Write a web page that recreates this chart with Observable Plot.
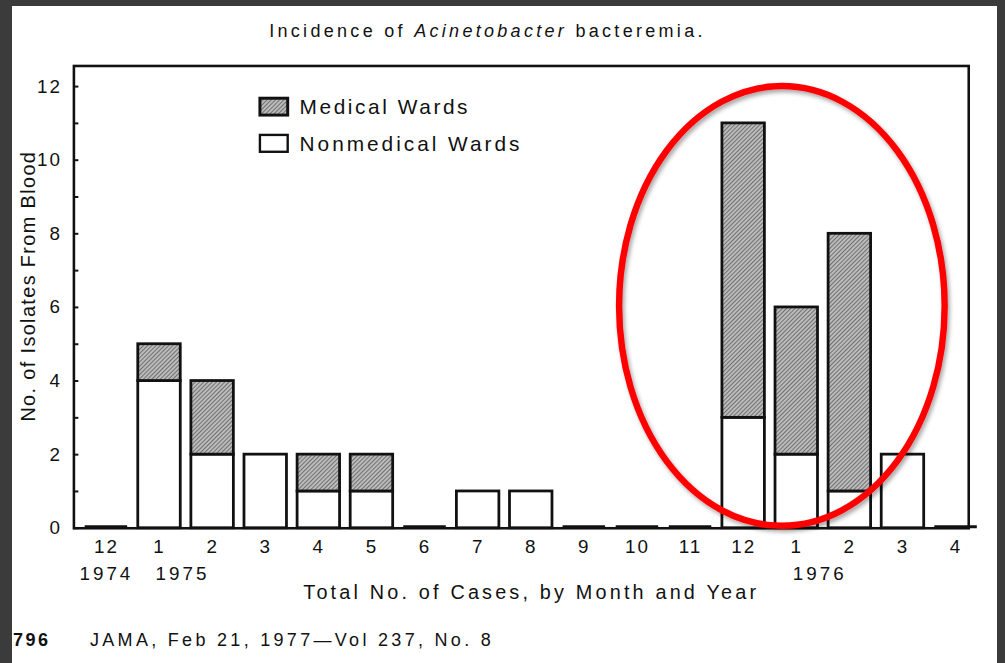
<!DOCTYPE html>
<html>
<head>
<meta charset="utf-8">
<script src="https://cdn.jsdelivr.net/npm/d3@7"></script>
<script src="https://cdn.jsdelivr.net/npm/@observablehq/plot@0.6"></script>
<style>
  html, body { margin: 0; padding: 0; }
  body { width: 1005px; height: 663px; background: #3b3b3b; position: relative; overflow: hidden;
         font-family: "Liberation Sans", Arial, Helvetica, sans-serif; }
  #panel { position: absolute; left: 12px; top: 6px; width: 985px; height: 657px; background: #fff; overflow: hidden; }
  #chart { position: absolute; left: -12px; top: -6px; }
  .title { position: absolute; left: 0; width: 951px; top: 15px; text-align: center; font-size: 18px; letter-spacing: 3.3px; color: #111; }
  .footer { position: absolute; top: 624px; font-size: 18px; color: #111; letter-spacing: 3.3px; white-space: nowrap; }
</style>
</head>
<body>
<div id="panel">
  <div id="chart"></div>
  <div class="title">Incidence of <i>Acinetobacter</i> bacteremia.</div>
  <div class="footer" style="left:1px;font-weight:bold;letter-spacing:2.5px;">796</div>
  <div class="footer" style="left:78px;">JAMA, Feb 21, 1977—Vol 237, No. 8</div>
</div>
<script>
// ---- data ----
const monthKeys   = ["1974-12","1975-01","1975-02","1975-03","1975-04","1975-05","1975-06","1975-07","1975-08","1975-09","1975-10","1975-11","1975-12","1976-01","1976-02","1976-03","1976-04"];
const monthLabels = ["12","1","2","3","4","5","6","7","8","9","10","11","12","1","2","3","4"];
const nonmedical  = [0, 4, 2, 2, 1, 1, 0, 1, 1, 0, 0, 0, 3, 2, 1, 2, 0];
const medical     = [0, 1, 2, 0, 1, 1, 0, 0, 0, 0, 0, 0, 8, 4, 7, 0, 0];
const yTicks      = [0, 2, 4, 6, 8, 10, 12];
const yMinorTicks = [0,1,2,3,4,5,6,7,8,9,10,11,12];
const yearCentered = [{key: "1974-12", year: "1974"}];
const yearStart    = [{key: "1975-01", year: "1975"}, {key: "1976-01", year: "1976"}];
const seriesNames = ["Medical Wards", "Nonmedical Wards"];
const yLabel = "No. of Isolates From Blood";
const xLabel = "Total No. of Cases, by Month and Year";

const rows = monthKeys.map((key, i) => ({key, non: nonmedical[i], med: medical[i]}));
const zeroRows = rows.filter(d => d.non + d.med === 0);
const labelOf = k => monthLabels[monthKeys.indexOf(k)];

const plot = Plot.plot({
  width: 1005,
  height: 663,
  marginLeft: 74,
  marginRight: 29,
  marginTop: 66,
  marginBottom: 131,
  style: {background: "transparent", fontFamily: "'Liberation Sans', Arial, Helvetica, sans-serif", fontSize: "19px", color: "#111", overflow: "visible"},
  x: {domain: monthKeys, range: [80, 990], paddingInner: 0.2, paddingOuter: 0.1, round: false, axis: null},
  y: {domain: [0, 12.56], axis: null},
  marks: [
    Plot.barY(rows, {x: "key", y1: 0, y2: "non", fill: "white", stroke: "#111", strokeWidth: 2.8}),
    Plot.barY(rows.filter(d => d.med > 0), {x: "key", y1: "non", y2: d => d.non + d.med, fill: "url(#hatch)", stroke: "#111", strokeWidth: 2.8}),
    Plot.tickY(zeroRows, {x: "key", y: 0, stroke: "#111", strokeWidth: 3.2, dy: -1.5}),
    Plot.frame({stroke: "#111", strokeWidth: 2.6}),
    Plot.tickY(yMinorTicks, {y: d => d, stroke: "#111", strokeWidth: 2, insetRight: 897}),
    Plot.axisY({ticks: yTicks, tickSize: 0, tickPadding: 12, fontSize: 19, label: null}),
    Plot.axisX({tickSize: 0, tickPadding: 11, tickFormat: labelOf, fontSize: 19, label: null}),
    Plot.text(yearCentered, {x: "key", text: "year", frameAnchor: "bottom", lineAnchor: "top", dy: 39, fontSize: 19, className: "yr"}),
    Plot.text(yearStart, {x: "key", text: "year", frameAnchor: "bottom", lineAnchor: "top", textAnchor: "start", dx: -4, dy: 39, fontSize: 19, className: "yr"}),
    Plot.text([xLabel], {text: d => d, frameAnchor: "bottom", lineAnchor: "top", textAnchor: "middle", dy: 57, dx: 10, fontSize: 20, className: "xlab"}),
    Plot.text([yLabel], {text: d => d, frameAnchor: "left", textAnchor: "middle", rotate: -90, dx: -46, dy: -11, fontSize: 20, className: "ylab"})
  ]
});

document.getElementById("chart").appendChild(plot);

const svg = d3.select(plot);
// hatch pattern
svg.insert("defs", ":first-child").html(`
  <pattern id="hatch" width="3" height="3" patternUnits="userSpaceOnUse" patternTransform="rotate(45)">
    <rect width="3" height="3" fill="#bdbdbd"/>
    <line x1="0.5" y1="0" x2="0.5" y2="3" stroke="#707070" stroke-width="1.1"/>
  </pattern>
  <filter id="shadow" x="-20%" y="-20%" width="140%" height="140%">
    <feDropShadow dx="2" dy="3" stdDeviation="2" flood-color="#000" flood-opacity="0.35"/>
  </filter>`);

// letter spacing for text like the scan
svg.selectAll("text").attr("letter-spacing", 2);
svg.selectAll(".xlab text").attr("letter-spacing", 3.2);
svg.selectAll(".ylab text").attr("letter-spacing", 1.4);
svg.selectAll(".yr text").attr("letter-spacing", 3);

// legend
const legend = svg.append("g").attr("font-size", 21).attr("fill", "#111").attr("text-anchor", "start");
const legendFill = ["url(#hatch)", "white"];
const legendSpacing = [2.6, 3.0];
seriesNames.forEach((name, i) => {
  const y0 = 99 + i * 37;
  legend.append("rect").attr("x", 262).attr("y", y0).attr("width", 28).attr("height", 17)
    .attr("fill", legendFill[i]).attr("stroke", "#111").attr("stroke-width", i === 0 ? 3 : 2.4);
  legend.append("text").attr("x", 302).attr("y", y0 + 8.5).attr("dy", "0.36em")
    .attr("letter-spacing", legendSpacing[i]).text(name);
});

// red annotation ellipse around Dec 1975 – Mar 1976
const xs = plot.scale("x"), ys = plot.scale("y");
const bw = xs.bandwidth;
const eLeft = xs.apply("1975-10") + bw / 2 - 18;
const eRight = xs.apply("1976-04") + bw / 2 - 11;
const eTop = ys.apply(12.0), eBottom = ys.apply(0) - 2;
svg.append("ellipse")
  .attr("cx", (eLeft + eRight) / 2).attr("cy", (eTop + eBottom) / 2)
  .attr("rx", (eRight - eLeft) / 2).attr("ry", (eBottom - eTop) / 2)
  .attr("fill", "none").attr("stroke", "#ff0000").attr("stroke-width", 6.5)
  .attr("filter", "url(#shadow)");
</script>
</body>
</html>
